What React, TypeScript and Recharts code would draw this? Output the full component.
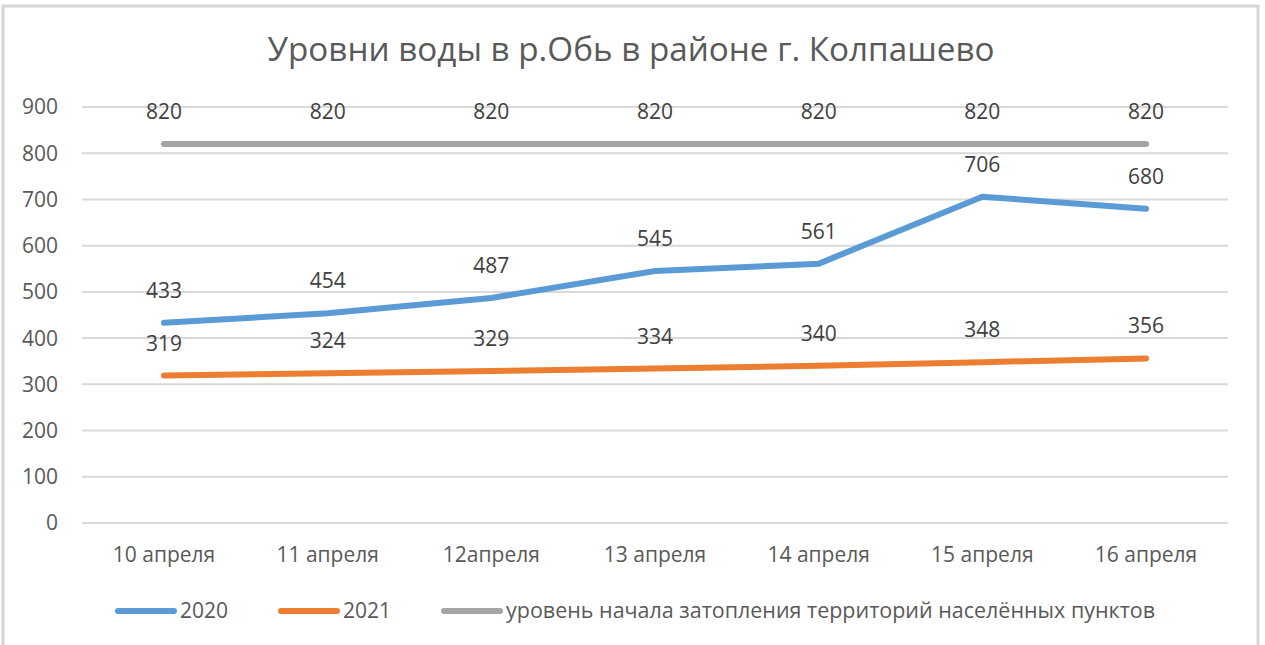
import React from 'react';
import { LineChart, Line, XAxis, YAxis, CartesianGrid, LabelList } from 'recharts';

const categories = ['10 апреля', '11 апреля', '12апреля', '13 апреля', '14 апреля', '15 апреля', '16 апреля'];
const series2020 = [433, 454, 487, 545, 561, 706, 680];
const series2021 = [319, 324, 329, 334, 340, 348, 356];
const floodLevel = [820, 820, 820, 820, 820, 820, 820];
const yTicks = [0, 100, 200, 300, 400, 500, 600, 700, 800, 900];

const title = 'Уровни воды в р.Обь в районе г. Колпашево';
const legendItems = [
  { name: '2020', color: '#5B9BD5', x: 118, len: 0 },
  { name: '2021', color: '#ED7D31', x: 281, len: 0 },
  { name: 'уровень начала затопления территорий населённых пунктов', color: '#A5A5A5', x: 444, len: 649 },
];

const data = categories.map((c, i) => ({
  date: c,
  y2020: series2020[i],
  y2021: series2021[i],
  flood: floodLevel[i],
}));

const FONT = '"Open Sans", sans-serif';
const TEXT = '#595959';
const LABEL = '#404040';

export default function App() {
  return (
    <div style={{ position: 'absolute', left: 0, top: 0, width: 1265, height: 645, overflow: 'hidden', background: '#fff', fontFamily: FONT }}>
      <div style={{ position: 'absolute', left: 0, top: 0 }}>
        <LineChart width={1265} height={645} data={data} margin={{ top: 107, right: 37, bottom: 72, left: 22 }}>
          <CartesianGrid vertical={false} stroke="#d9d9d9" strokeWidth={2} />
          <XAxis
            dataKey="date"
            padding={{ left: 82, right: 82 }}
            axisLine={false}
            tickLine={false}
            tickSize={0}
            tickMargin={24}
            height={50}
            interval={0}
            tick={{ fill: TEXT, fontSize: 21, fontFamily: FONT }}
          />
          <YAxis
            domain={[0, 900]}
            ticks={yTicks}
            interval={0}
            axisLine={false}
            tickLine={false}
            tickSize={0}
            tickMargin={24}
            width={60}
            tick={{ fill: TEXT, fontSize: 21, fontFamily: FONT }}
          />
          <Line type="linear" dataKey="y2021" stroke="#ED7D31" strokeWidth={6} strokeLinecap="round" dot={false} isAnimationActive={false}>
            <LabelList dataKey="y2021" position="top" offset={25} fill={LABEL} fontSize={21} fontFamily={FONT} />
          </Line>
          <Line type="linear" dataKey="y2020" stroke="#5B9BD5" strokeWidth={6} strokeLinecap="round" dot={false} isAnimationActive={false}>
            <LabelList dataKey="y2020" position="top" offset={25} fill={LABEL} fontSize={21} fontFamily={FONT} />
          </Line>
          <Line type="linear" dataKey="flood" stroke="#A5A5A5" strokeWidth={6} strokeLinecap="round" dot={false} isAnimationActive={false}>
            <LabelList dataKey="flood" position="top" offset={25} fill={LABEL} fontSize={21} fontFamily={FONT} />
          </Line>
        </LineChart>
      </div>
      <svg style={{ position: 'absolute', left: 0, top: 0 }} width={1265} height={645}>
        <rect x={3} y={6} width={1255} height={660} fill="none" stroke="#d6d6d6" strokeWidth={3} />
        <text x={631} y={61} textAnchor="middle" fontSize={32} fill={TEXT} fontFamily={FONT} textLength={727} lengthAdjust="spacingAndGlyphs">
          {title}
        </text>
        {legendItems.map((it) => (
          <g key={it.name}>
            <line x1={it.x} x2={it.x + 56} y1={611} y2={611} stroke={it.color} strokeWidth={6} strokeLinecap="round" />
            {it.len ? (
              <text x={it.x + 62} y={618} fontSize={21} fill={TEXT} fontFamily={FONT} textLength={it.len} lengthAdjust="spacingAndGlyphs">{it.name}</text>
            ) : (
              <text x={it.x + 62} y={618} fontSize={21} fill={TEXT} fontFamily={FONT}>{it.name}</text>
            )}
          </g>
        ))}
      </svg>
    </div>
  );
}
